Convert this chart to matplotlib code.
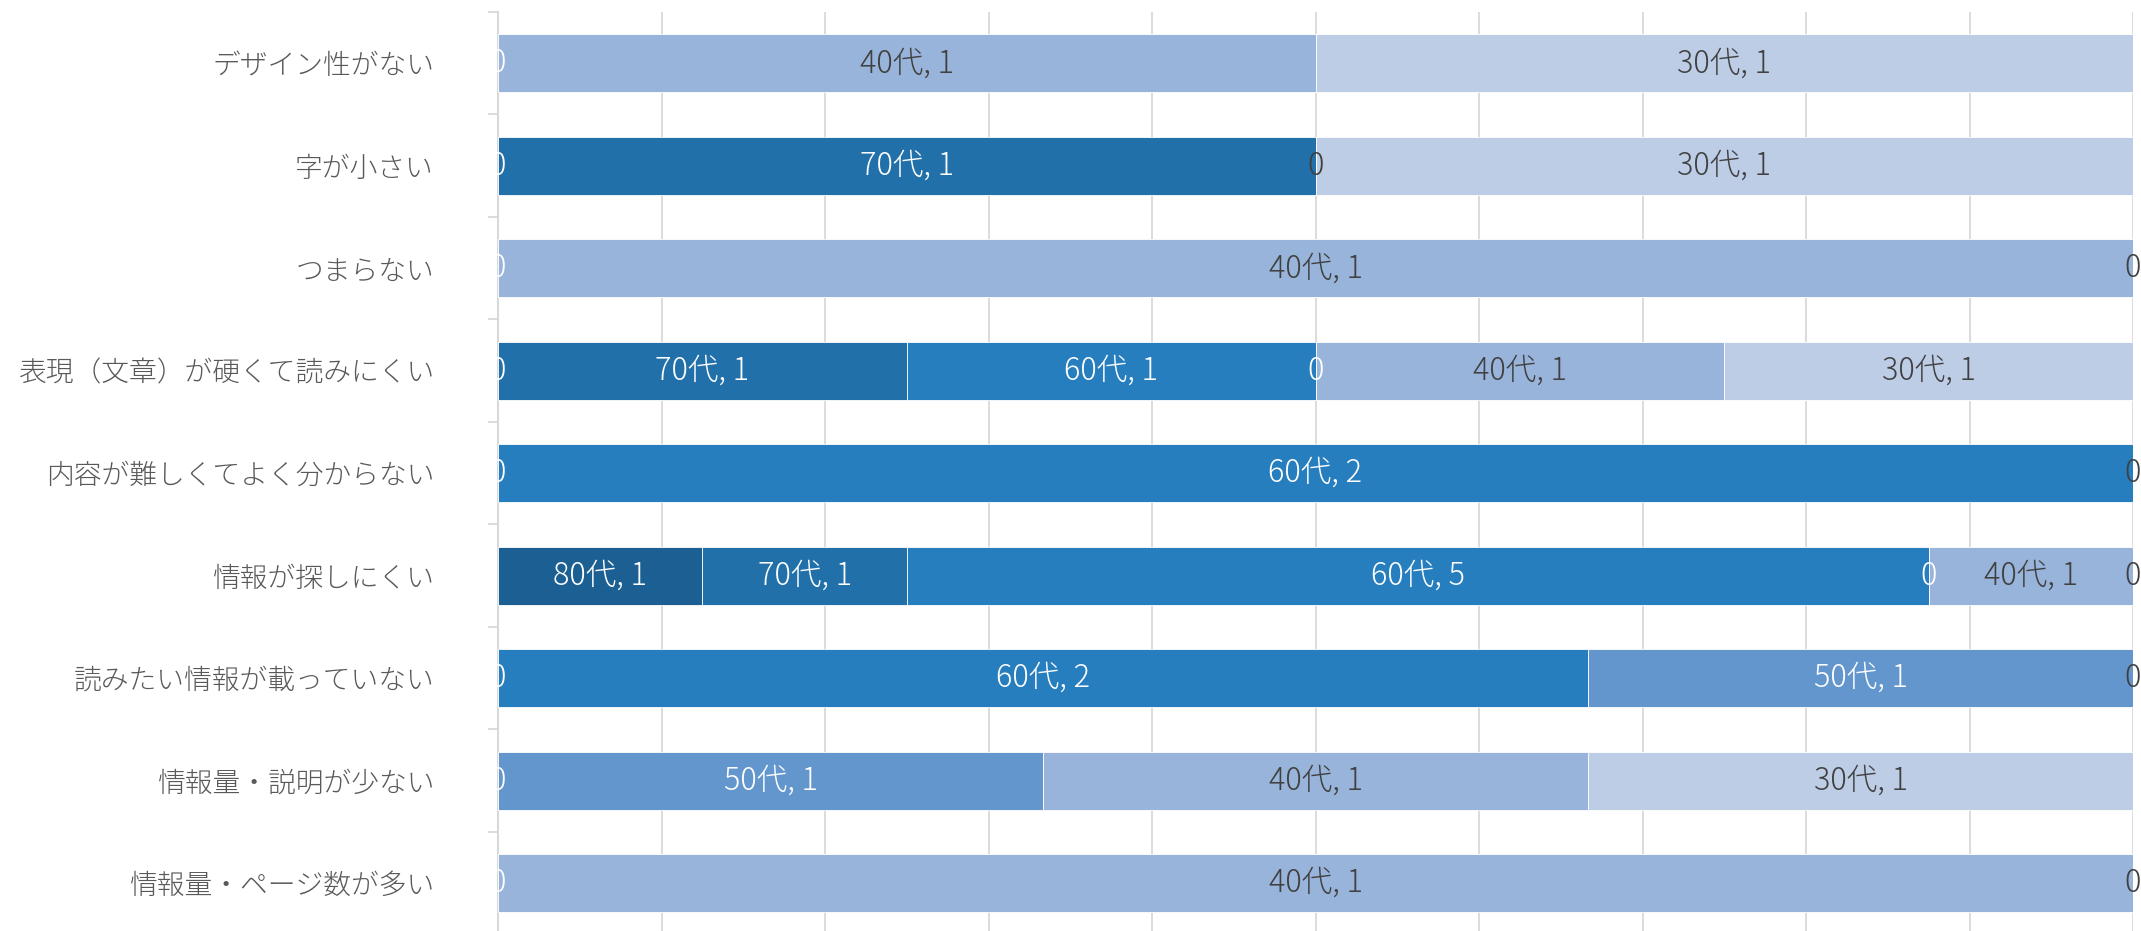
import numpy as np
import matplotlib
matplotlib.use("Agg")
import matplotlib.pyplot as plt

plt.rcParams['font.family'] = ['Noto Sans CJK JP', 'DejaVu Sans']

n = np.nan
categories = ['デザイン性がない', '字が小さい', 'つまらない', '表現（文章）が硬くて読みにくい',
              '内容が難しくてよく分からない', '情報が探しにくい', '読みたい情報が載っていない',
              '情報量・説明が少ない', '情報量・ページ数が多い']
series_names = ['80代', '70代', '60代', '50代', '40代', '30代']
v80 = [0, 0, 0, 0, 0, 1, 0, 0, 0]
v70 = [n, 1, n, 1, n, 1, n, n, n]
v60 = [n, n, n, 1, 2, 5, 2, n, n]
v50 = [n, n, n, 0, n, 0, 1, 1, n]
v40 = [1, 0, 1, 1, n, 1, n, 1, 1]
v30 = [1, 1, 0, 1, 0, 0, 0, 1, 0]
series_values = [v80, v70, v60, v50, v40, v30]

colors = ['#1c5f92', '#2270a9', '#267ebe', '#6396cd', '#98b4da', '#bdcde6']
label_colors = ['white', 'white', 'white', 'white', '#404040', '#404040']

fig = plt.figure(figsize=(21.41, 9.31), dpi=100)
ax = fig.add_axes([498 / 2141, -0.0035, 1635 / 2141, 0.9906])

vals = np.array(series_values, dtype=float)
totals = np.nansum(vals, axis=0)
y = np.arange(len(categories))
left = np.zeros(len(categories))
for name, v, c, lc in zip(series_names, vals, colors, label_colors):
    share = np.nan_to_num(v) / totals
    bars = ax.barh(y, share, left=left, height=0.566, color=c, edgecolor='white',
                   linewidth=0.6, zorder=3)
    labels = []
    for val in v:
        if np.isnan(val):
            labels.append('')
        elif val == 0:
            labels.append('0')
        else:
            labels.append(f'{name}, {int(val)}')
    ax.bar_label(bars, labels=labels, label_type='center', color=lc, fontsize=22,
                 fontweight='light', zorder=5)
    left = left + share

ax.set_xlim(0, 1)
ax.set_ylim(len(categories) - 0.5, -0.5)
ax.set_xticks(np.arange(0, 1.01, 0.1))
ax.tick_params(axis='x', length=0, labelbottom=False)
ax.grid(axis='x', color='#d9d9d9', linewidth=1.3, zorder=0)
ax.set_yticks(y)
ax.set_yticklabels(categories, fontsize=20, color='#595959', fontweight='light')
ax.set_yticks(np.arange(-0.5, len(categories) + 0.5, 1), minor=True)
ax.tick_params(axis='y', which='major', length=0, pad=46)
ax.tick_params(axis='y', which='minor', length=7, color='#d9d9d9', width=1.3)
for s in ['top', 'right', 'bottom']:
    ax.spines[s].set_visible(False)
ax.spines['left'].set_color('#d9d9d9')
ax.spines['left'].set_linewidth(1.5)
ax.set_axisbelow(True)

fig.savefig('out.png', dpi=100)
